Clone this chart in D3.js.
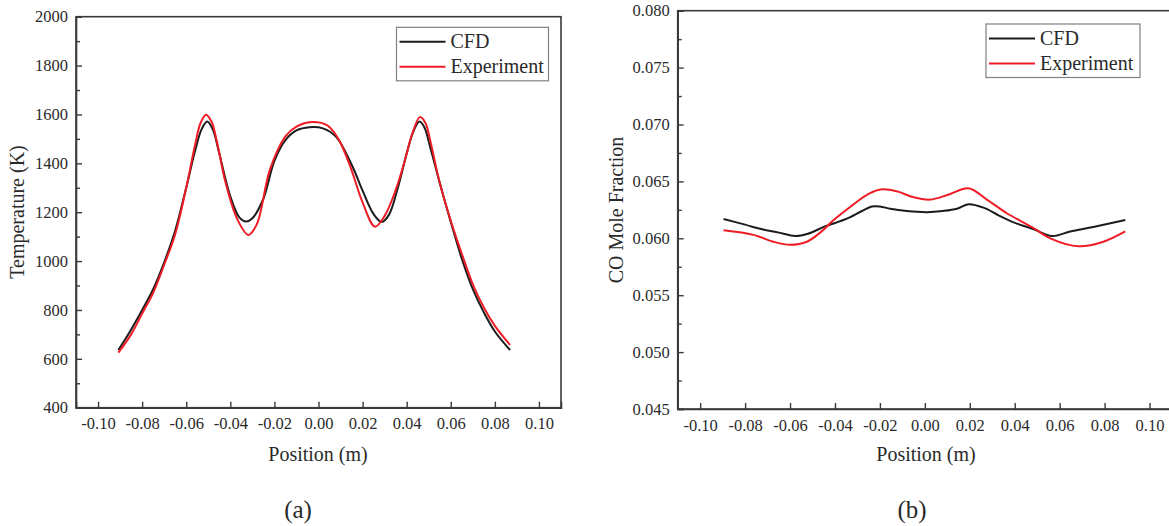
<!DOCTYPE html>
<html><head><meta charset="utf-8">
<script src="https://cdn.jsdelivr.net/npm/d3@7"></script>
<style>
html,body{margin:0;padding:0;background:#fff;}
svg{display:block;}
</style></head>
<body>
<svg id="c" width="1169" height="526"></svg>
<script>
// ---------- data ----------
const posTicks = [-0.10,-0.08,-0.06,-0.04,-0.02,0.00,0.02,0.04,0.06,0.08,0.10];
const tempTicks = [400,600,800,1000,1200,1400,1600,1800,2000];
const tempMinor = [500,700,900,1100,1300,1500,1700,1900];
const coTicks = [0.045,0.050,0.055,0.060,0.065,0.070,0.075,0.080];
const coMinor = [0.0475,0.0525,0.0575,0.0625,0.0675,0.0725,0.0775];
const seriesNames = ["CFD","Experiment"];

const tempCfdX = [-0.0908,-0.0855,-0.080,-0.075,-0.070,-0.065,-0.060,-0.056,-0.053,-0.0505,-0.048,-0.045,-0.040,-0.036,-0.0328,-0.030,-0.025,-0.020,-0.015,-0.010,-0.004,0.002,0.008,0.015,0.020,0.025,0.0287,0.032,0.036,0.040,0.043,0.0458,0.048,0.051,0.055,0.060,0.065,0.070,0.075,0.080,0.0869];
const tempCfdY = [636,712,800,885,995,1125,1300,1450,1540,1571,1540,1440,1265,1180,1162,1175,1255,1410,1495,1535,1548,1543,1508,1395,1288,1192,1160,1190,1300,1440,1530,1571,1548,1455,1320,1160,1010,885,790,712,636];

const tempExpX = [-0.0908,-0.085,-0.080,-0.075,-0.070,-0.065,-0.060,-0.056,-0.0535,-0.051,-0.0485,-0.046,-0.0424,-0.037,-0.0318,-0.028,-0.022,-0.015,-0.010,-0.003,0.004,0.009,0.0143,0.020,0.0256,0.030,0.035,0.0388,0.0425,0.046,0.0485,0.051,0.055,0.060,0.065,0.070,0.075,0.080,0.0869];
const tempExpY = [625,700,785,870,985,1110,1300,1475,1565,1599,1570,1485,1330,1175,1107,1150,1375,1510,1550,1569,1555,1500,1390,1240,1141,1185,1290,1400,1520,1589,1565,1480,1320,1165,1030,905,810,735,657];

const coCfdX = [-0.0896,-0.080,-0.0747,-0.065,-0.0577,-0.052,-0.045,-0.0421,-0.035,-0.028,-0.0236,-0.020,-0.0154,-0.008,0.0009,0.008,0.0143,0.0194,0.0261,0.033,0.0395,0.0484,0.0566,0.0647,0.075,0.0892];
const coCfdY = [0.0617,0.0612,0.0609,0.0605,0.0602,0.0604,0.0610,0.0612,0.0617,0.0624,0.0628,0.0628,0.0626,0.0624,0.0623,0.0624,0.0626,0.0630,0.0627,0.0620,0.0614,0.0608,0.0602,0.0606,0.0610,0.0616];

const coExpX = [-0.0896,-0.0763,-0.0674,-0.0599,-0.0525,-0.0466,-0.0406,-0.033,-0.025,-0.019,-0.012,-0.005,0.0024,0.010,0.0194,0.0276,0.0365,0.0484,0.0558,0.0684,0.0795,0.0892];
const coExpY = [0.0607,0.0603,0.0597,0.05943,0.0597,0.0605,0.0616,0.0628,0.0639,0.0643,0.0641,0.0636,0.0634,0.0638,0.0644,0.0634,0.0622,0.0609,0.0600,0.0593,0.0597,0.0606];

// ---------- drawing ----------
const FONT = '"Liberation Serif","Times New Roman",serif';
const svg = d3.select("#c");
svg.append("rect").attr("width",1169).attr("height",526).attr("fill","#fff");
const colors = ["#1c1c1c","#ee1c25"];
const fmtPos = d => d.toFixed(2);

function txt(sel, size){
  return sel.attr("font-family",FONT).attr("font-size",size).attr("fill","#2a2a2a");
}

function panel(cfg){
  const g = svg.append("g");
  const x = d3.scaleLinear().domain([-0.11,0.11]).range([cfg.left,cfg.right]);
  const y = d3.scaleLinear().domain(cfg.yDomain).range([cfg.bottom,cfg.top]);

  g.append("rect").attr("x",cfg.left).attr("y",cfg.top)
    .attr("width",cfg.right-cfg.left).attr("height",cfg.bottom-cfg.top)
    .attr("fill","none").attr("stroke","#3a3a3a").attr("stroke-width",1.6);

  const xa = g.append("g").attr("transform",`translate(0,${cfg.bottom})`)
    .call(d3.axisBottom(x).tickValues(posTicks).tickFormat(fmtPos).tickSize(-6).tickPadding(10));
  const ya = g.append("g").attr("transform",`translate(${cfg.left},0)`)
    .call(d3.axisLeft(y).tickValues(cfg.yTicks).tickFormat(cfg.yFmt).tickSize(-6).tickPadding(8));
  const ym = g.append("g").attr("transform",`translate(${cfg.left},0)`)
    .call(d3.axisLeft(y).tickValues(cfg.yMinor).tickFormat("").tickSize(-4));
  ym.select(".domain").remove();
  [xa,ya,ym].forEach(a=>{
    a.attr("font-family",FONT).attr("font-size",16.5);
    a.selectAll(".domain").attr("stroke","#3a3a3a").attr("stroke-width",1.6);
    a.selectAll(".tick line").attr("stroke","#3a3a3a").attr("stroke-width",1.4);
    a.selectAll(".tick text").attr("fill","#2a2a2a");
  });

  const line = d3.line().x(d=>x(d[0])).y(d=>y(d[1])).curve(d3.curveCatmullRom.alpha(0.5));
  cfg.series.forEach((s,i)=>{
    const pts = s.xs.map((v,k)=>[v,s.ys[k]]);
    g.append("path").datum(pts).attr("d",line).attr("fill","none")
      .attr("stroke",colors[i]).attr("stroke-width",2).attr("stroke-linejoin","round");
  });

  const L = cfg.legend;
  g.append("rect").attr("x",L.x).attr("y",L.y).attr("width",L.w).attr("height",L.h)
    .attr("fill","#fff").attr("stroke","#808080").attr("stroke-width",1.2);
  seriesNames.forEach((n,i)=>{
    const yy = L.y + 14.5 + i*25;
    g.append("line").attr("x1",L.x+3).attr("x2",L.x+49).attr("y1",yy).attr("y2",yy)
      .attr("stroke",colors[i]).attr("stroke-width",2);
    txt(g.append("text").attr("x",L.x+54).attr("y",yy+6.5).text(n), 20);
  });

  txt(g.append("text").attr("x",cfg.xTitleX).attr("y",461)
    .attr("text-anchor","middle").text("Position (m)"), 20);
  txt(g.append("text").attr("transform",`translate(${cfg.yTitleX},${cfg.yTitleY}) rotate(-90)`)
    .attr("text-anchor","middle").text(cfg.yTitle), 20);
  txt(g.append("text").attr("x",cfg.capX).attr("y",518).attr("text-anchor","middle")
    .text(cfg.cap), 25);
}

panel({left:76,right:561,top:16.7,bottom:407.7,yDomain:[400,2000],
  yTicks:tempTicks,yMinor:tempMinor,yFmt:d=>String(d),
  series:[{xs:tempCfdX,ys:tempCfdY},{xs:tempExpX,ys:tempExpY}],
  legend:{x:396.5,y:27.3,w:152,h:53.5},
  xTitleX:318,yTitleX:24,yTitleY:212,yTitle:"Temperature (K)",capX:298,cap:"(a)"});

panel({left:677.7,right:1172,top:10.7,bottom:409,yDomain:[0.045,0.080],
  yTicks:coTicks,yMinor:coMinor,yFmt:d=>d.toFixed(3),
  series:[{xs:coCfdX,ys:coCfdY},{xs:coExpX,ys:coExpY}],
  legend:{x:986,y:24,w:154,h:53.5},
  xTitleX:926,yTitleX:623,yTitleY:210,yTitle:"CO Mole Fraction",capX:912,cap:"(b)"});
</script>
</body></html>
